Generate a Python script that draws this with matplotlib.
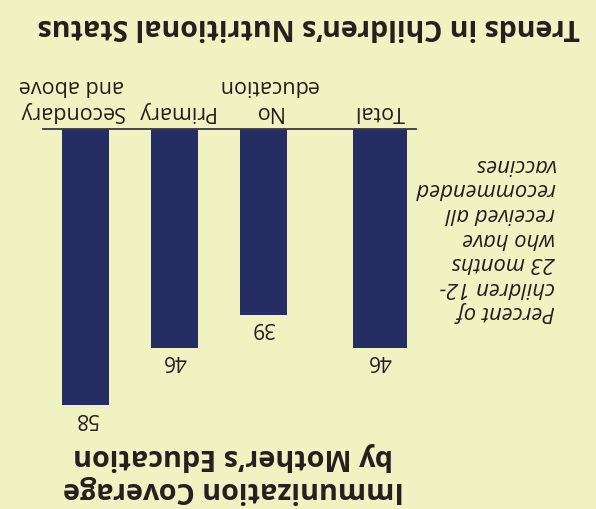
import matplotlib.pyplot as plt

# Chart data (figure is printed upside down in the source)
categories = ['Total', 'No\neducation', 'Primary', 'Secondary\nand above']
values = [46, 39, 46, 58]

page_title = 'Trends in Children\u2019s Nutritional Status'
chart_title = 'Immunization Coverage\nby Mother\u2019s Education'
y_label = 'Percent of\nchildren 12-\n23 months\nwho have\nreceived all\nrecommended\nvaccines'

bg = '#f1f2c2'
bar_color = '#262d63'
text_color = '#231f20'

plt.rcParams['font.family'] = ['Open Sans', 'DejaVu Sans']

W, H = 596, 509
fig = plt.figure(figsize=(W / 100, H / 100), dpi=100, facecolor=bg)

# axes placed in pixel terms: baseline at y=129, spanning x 43..416
ax = fig.add_axes([43 / W, (H - 449) / H, (416 - 43) / W, 320 / H])
ax.set_facecolor(bg)

# "Total" sits a bit apart from the education groups
xpos = [0] + [i + 0.31 for i in range(1, len(categories))]
widths = [0.61] + [0.52] * (len(categories) - 1)

ax.bar(xpos, values, width=widths, color=bar_color, align='center')
ax.set_xlim(3.787, -0.404)
ax.set_ylim(67.2, 0)

for s in ['left', 'right', 'bottom']:
    ax.spines[s].set_visible(False)
ax.spines['top'].set_color('#3a3a3a')
ax.spines['top'].set_linewidth(1.3)
ax.set_xticks([])
ax.set_yticks([])

for x, v in zip(xpos, values):
    ax.text(x, v + 0.5, str(v), rotation=180, ha='center', va='top',
            fontsize=15, color=text_color)

label_shift = [0, 3, 0, -10]
for x, c, dx in zip(xpos, categories, label_shift):
    ax.annotate(c, xy=(x, 0), xytext=(dx, 5), textcoords='offset points',
                rotation=180, ha='center', va='bottom', fontsize=15.5,
                color=text_color, linespacing=1.3, annotation_clip=False)

fig.text(555 / W, 1 - 238 / H, y_label, rotation=180, ha='right', va='center',
         multialignment='left', style='italic', fontsize=15.8,
         color=text_color, linespacing=1.22)

fig.text(580 / W, 1 - 26 / H, page_title, rotation=180, ha='right',
         va='center', fontsize=20.5, fontweight='bold', color=text_color)

fig.text(233 / W, 1 - 473 / H, chart_title, rotation=180, ha='center',
         va='center', multialignment='center', fontsize=20.7,
         fontweight='bold', color=text_color, linespacing=1.15)

fig.savefig('out.png', dpi=100, facecolor=bg)
